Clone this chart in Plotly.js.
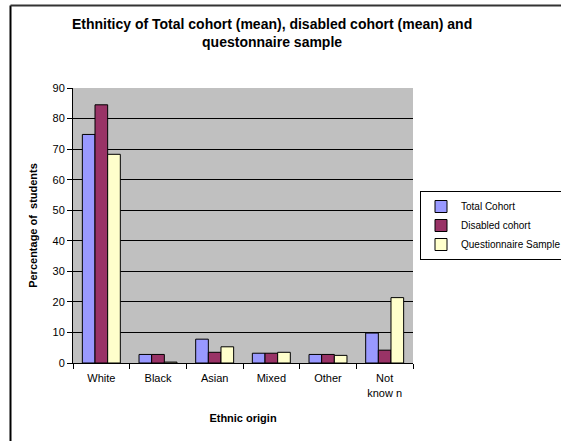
<!DOCTYPE html>
<html>
<head>
<meta charset="utf-8">
<script src="https://cdn.plot.ly/plotly-3.0.1.min.js"></script>
<style>html,body{margin:0;padding:0;background:#fff;}#chart{width:561px;height:441px;}</style>
</head>
<body>
<div id="chart"></div>
<script>
var categories = ["White", "Black", "Asian", "Mixed", "Other", "Not<br>know n"];
var totalCohort = [74.8, 2.8, 7.8, 3.2, 2.8, 9.8];
var disabledCohort = [84.5, 2.8, 3.5, 3.2, 2.8, 4.2];
var questionnaireSample = [68.3, 0.3, 5.3, 3.5, 2.5, 21.4];
var seriesNames = ["Total Cohort", "Disabled cohort", "Questionnaire Sample"];
var yTicks = [0, 10, 20, 30, 40, 50, 60, 70, 80, 90];

var W = 561, H = 441;
var ml = 73, mr = 148, mt = 88, mb = 78;
var pw = W - ml - mr, ph = H - mt - mb;
function px(x) { return (x - ml) / pw; }
function py(y) { return (H - mb - y) / ph; }

var colors = ["#9999FF", "#993366", "#FFFFCC"];
var data = [totalCohort, disabledCohort, questionnaireSample].map(function (vals, i) {
  return {
    type: "bar", x: categories, y: vals, name: seriesNames[i],
    marker: { color: colors[i], line: { color: "#000", width: 1 } }
  };
});

var layout = {
  width: W, height: H,
  margin: { l: ml, r: mr, t: mt, b: mb, pad: 0, autoexpand: false },
  paper_bgcolor: "#fff", plot_bgcolor: "#C0C0C0",
  font: { family: "Liberation Sans, Arial, sans-serif", size: 11, color: "#000" },
  title: {
    text: "<b>Ethniticy of Total cohort (mean), disabled cohort (mean) and<br>questonnaire sample</b>",
    font: { size: 14, color: "#000" },
    xref: "container", x: 0.485, xanchor: "center",
    yref: "container", y: 0.935, yanchor: "top"
  },
  barmode: "group", bargap: 0.33, bargroupgap: 0,
  xaxis: {
    type: "category", automargin: false,
    showline: true, linecolor: "#000", linewidth: 1,
    ticks: "outside", ticklen: 5, tickcolor: "#000", tickson: "boundaries",
    ticklabelstandoff: 5,
    showgrid: false, zeroline: false,
    tickfont: { size: 11 },
    title: { text: "<b>Ethnic origin</b>", font: { size: 11 }, standoff: 16 }
  },
  yaxis: {
    range: [0, 90], tickvals: yTicks, ticktext: yTicks.map(String), automargin: false,
    showline: true, linecolor: "#000", linewidth: 1,
    ticks: "outside", ticklen: 5, tickcolor: "#000",
    showgrid: true, gridcolor: "#000", gridwidth: 1, zeroline: false,
    tickfont: { size: 11 },
    title: { text: "<b>Percentage of  students</b>", font: { size: 11 }, standoff: 12 }
  },
  legend: {
    xref: "container", yref: "container",
    x: 420 / W, xanchor: "left", y: 1 - 191 / H, yanchor: "top",
    bgcolor: "#fff", bordercolor: "#000", borderwidth: 1,
    font: { size: 10 }, tracegroupgap: 0, itemwidth: 30
  },
  shapes: [
    { type: "line", xref: "paper", yref: "paper", x0: px(10.5), x1: px(10.5), y0: py(5.5), y1: py(445), line: { color: "#000", width: 2 } },
    { type: "line", xref: "paper", yref: "paper", x0: px(10.5), x1: px(565), y0: py(5.5), y1: py(5.5), line: { color: "#333", width: 2 } }
  ]
};

Plotly.newPlot("chart", data, layout, { displayModeBar: false, staticPlot: true });
</script>
</body>
</html>
